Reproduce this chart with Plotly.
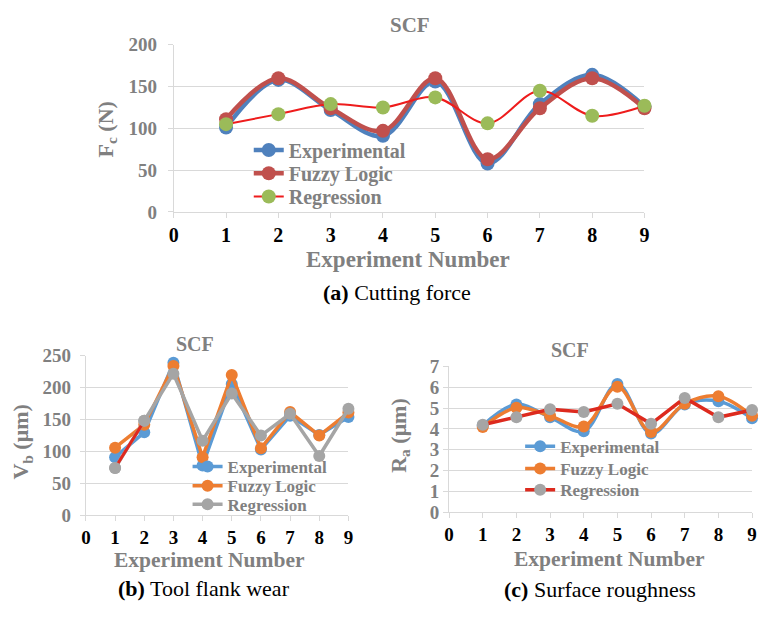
import plotly.graph_objects as go

W, H = 761, 618

experiments = [1, 2, 3, 4, 5, 6, 7, 8, 9]
x_tick_values = [0, 1, 2, 3, 4, 5, 6, 7, 8, 9]

# (a) Cutting force, N
fc_experimental = [101, 158, 122, 91, 156, 58, 129, 164, 126]
fc_fuzzy = [111, 160, 124, 97, 160, 63, 124, 160, 124]
fc_regression = [105, 117, 129, 125, 137, 106, 145, 115, 127]

# (b) Tool flank wear, um
vb_experimental = [91, 130, 239, 78, 206, 103, 156, 126, 154]
vb_fuzzy = [106, 142, 234, 91, 220, 105, 162, 125, 161]
vb_regression = [74, 148, 222, 117, 191, 125, 159, 93, 167]

# (c) Surface roughness, um
ra_experimental = [4.17, 5.18, 4.56, 3.89, 6.16, 3.78, 5.18, 5.33, 4.51]
ra_fuzzy = [4.09, 5.02, 4.63, 4.12, 6.03, 3.86, 5.21, 5.57, 4.63]
ra_regression = [4.20, 4.56, 4.95, 4.82, 5.21, 4.25, 5.49, 4.56, 4.91]

series_names = ["Experimental", "Fuzzy Logic", "Regression"]

FONT = "Liberation Serif"
GREY_TXT = "#808080"
GRID = "#D9D9D9"


def px_x(x):
    return x / W


def px_y(y):
    return 1 - y / H


fig = go.Figure()

# ---- (a) cutting force ----
fig.add_trace(go.Scatter(
    x=experiments, y=fc_experimental, name=series_names[0], mode="lines+markers",
    line=dict(color="#4F81BD", width=4.5, shape="spline"),
    marker=dict(color="#4F81BD", size=14), cliponaxis=False,
    xaxis="x", yaxis="y", legend="legend"))
fig.add_trace(go.Scatter(
    x=experiments, y=fc_fuzzy, name=series_names[1], mode="lines+markers",
    line=dict(color="#C0504D", width=4.5, shape="spline"),
    marker=dict(color="#C0504D", size=14), cliponaxis=False,
    xaxis="x", yaxis="y", legend="legend2"))
fig.add_trace(go.Scatter(
    x=experiments, y=fc_regression, name=series_names[2], mode="lines+markers",
    line=dict(color="#EE1C1C", width=2, shape="spline"),
    marker=dict(color="#9BBB59", size=14), cliponaxis=False,
    xaxis="x", yaxis="y", legend="legend3"))

# ---- (b) tool flank wear ----
fig.add_trace(go.Scatter(
    x=experiments, y=vb_experimental, name=series_names[0], mode="lines+markers",
    line=dict(color="#5B9BD5", width=3.5),
    marker=dict(color="#5B9BD5", size=12), cliponaxis=False,
    xaxis="x2", yaxis="y2", legend="legend4"))
fig.add_trace(go.Scatter(
    x=experiments, y=vb_fuzzy, name=series_names[1], mode="lines+markers",
    line=dict(color="#ED7D31", width=3.5),
    marker=dict(color="#ED7D31", size=12), cliponaxis=False,
    xaxis="x2", yaxis="y2", legend="legend5"))
fig.add_trace(go.Scatter(
    x=experiments, y=vb_regression, name=series_names[2], mode="lines+markers",
    line=dict(color="#A5A5A5", width=3.5),
    marker=dict(color="#A5A5A5", size=12), cliponaxis=False,
    xaxis="x2", yaxis="y2", legend="legend6"))
# red stroke over the first regression segment, markers redrawn on top
fig.add_trace(go.Scatter(
    x=experiments[:2], y=vb_regression[:2], mode="lines", showlegend=False,
    line=dict(color="#E0281E", width=3), hoverinfo="skip",
    xaxis="x2", yaxis="y2"))
fig.add_trace(go.Scatter(
    x=experiments[:2], y=vb_regression[:2], mode="markers", showlegend=False,
    marker=dict(color="#A5A5A5", size=12), cliponaxis=False, hoverinfo="skip",
    xaxis="x2", yaxis="y2"))

# ---- (c) surface roughness ----
fig.add_trace(go.Scatter(
    x=experiments, y=ra_experimental, name=series_names[0], mode="lines+markers",
    line=dict(color="#5B9BD5", width=3.5, shape="spline"),
    marker=dict(color="#5B9BD5", size=12), cliponaxis=False,
    xaxis="x3", yaxis="y3", legend="legend7"))
fig.add_trace(go.Scatter(
    x=experiments, y=ra_fuzzy, name=series_names[1], mode="lines+markers",
    line=dict(color="#ED7D31", width=3.5, shape="spline"),
    marker=dict(color="#ED7D31", size=12), cliponaxis=False,
    xaxis="x3", yaxis="y3", legend="legend8"))
fig.add_trace(go.Scatter(
    x=experiments, y=ra_regression, name=series_names[2], mode="lines+markers",
    line=dict(color="#DD2A1E", width=3.5),
    marker=dict(color="#A5A5A5", size=12), cliponaxis=False,
    xaxis="x3", yaxis="y3", legend="legend9"))


def x_axis(domain, anchor, size):
    return dict(domain=domain, anchor=anchor, range=[0, 9], tickvals=x_tick_values,
                showgrid=False, showline=True, linecolor=GRID, linewidth=1,
                ticks="outside", ticklen=5, tickcolor=GRID, zeroline=False,
                tickfont=dict(family=FONT, size=size, color="black", weight="bold"),
                fixedrange=True)


def y_axis(domain, anchor, rng, dtick, size, standoff):
    return dict(domain=domain, anchor=anchor, range=rng, dtick=dtick,
                showgrid=True, gridcolor=GRID, gridwidth=1,
                showline=True, linecolor=GRID, linewidth=1,
                ticks="outside", ticklen=5, tickcolor=GRID, zeroline=False,
                ticklabelstandoff=standoff,
                tickfont=dict(family=FONT, size=size, color=GREY_TXT, weight="bold"),
                fixedrange=True)


def legend_at(text_left_px, center_px, size):
    # one entry per legend so each row sits at its own height
    return dict(x=px_x(text_left_px - 41), y=px_y(center_px),
                xanchor="left", yanchor="middle",
                bgcolor="rgba(0,0,0,0)", borderwidth=0,
                font=dict(family=FONT, size=size, color=GREY_TXT, weight="bold"),
                itemclick=False, itemdoubleclick=False)


def text_at(x, y, text, size, color=GREY_TXT, bold=True, angle=0):
    return dict(x=px_x(x), y=px_y(y), xref="paper", yref="paper", text=text,
                showarrow=False, xanchor="center", yanchor="middle", textangle=angle,
                font=dict(family=FONT, size=size, color=color,
                          weight="bold" if bold else "normal"))


annotations = [
    # (a)
    text_at(410, 16, "SCF", 21),
    text_at(103, 124, "F<sub>c</sub> (N)", 22, angle=-90),
    text_at(408, 258, "Experiment Number", 23),
    text_at(397, 292, "<b>(a)</b> Cutting force", 22, color="black", bold=False),
    # (b)
    text_at(193, 346, "SCF", 20),
    text_at(17, 447, "V<sub>b</sub> (μm)", 22, angle=-90),
    text_at(207, 569, "Experiment Number", 21.5),
    text_at(202, 599, "<b>(b)</b> Tool flank wear", 22, color="black", bold=False),
    # (c)
    text_at(573, 352, "SCF", 20),
    text_at(400, 440, "R<sub>a</sub> (μm)", 22, angle=-90),
    text_at(613, 568, "Experiment Number", 21.5),
    text_at(603, 600, "<b>(c)</b> Surface roughness", 22, color="black", bold=False),
]

fig.update_layout(
    width=W, height=H,
    margin=dict(l=0, r=0, t=0, b=0),
    paper_bgcolor="white", plot_bgcolor="white",
    xaxis=x_axis([px_x(171), px_x(648)], "y", 20),
    yaxis=y_axis([px_y(209), px_y(36)], "x", [0, 200], 50, 19, 7),
    xaxis2=x_axis([px_x(82), px_x(348)], "y2", 19),
    yaxis2=y_axis([px_y(523), px_y(358)], "x2", [0, 250], 50, 19, 5),
    xaxis3=x_axis([px_x(450), px_x(757)], "y3", 19),
    yaxis3=y_axis([px_y(520), px_y(369)], "x3", [0, 7], 1, 19, 0),
    legend=legend_at(288, 145, 20),
    legend2=legend_at(288, 169, 20),
    legend3=legend_at(288, 193, 20),
    legend4=legend_at(226, 473, 17),
    legend5=legend_at(226, 493, 17),
    legend6=legend_at(226, 512, 17),
    legend7=legend_at(563, 452, 17),
    legend8=legend_at(563, 475, 17),
    legend9=legend_at(563, 497, 17),
    annotations=annotations,
    showlegend=True,
)

fig.write_html("out.html")
